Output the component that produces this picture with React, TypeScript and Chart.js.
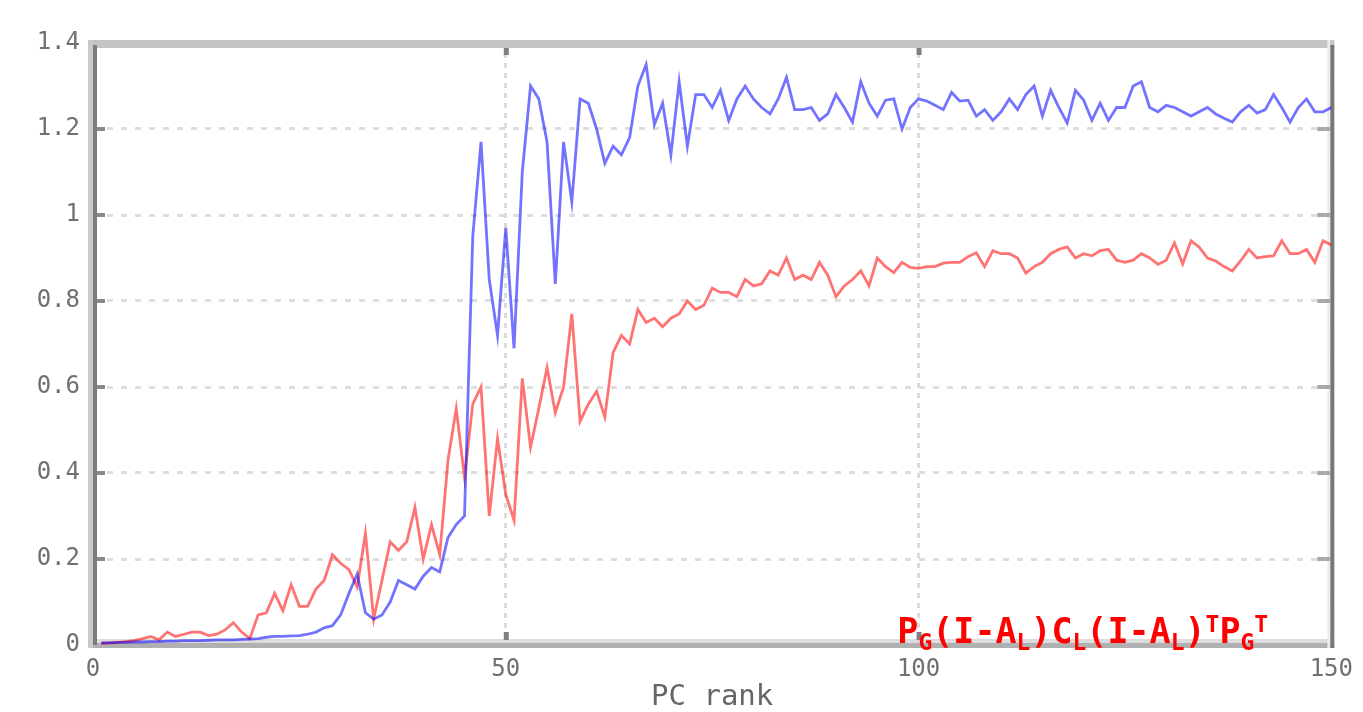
import React, { useEffect, useRef } from 'react';
import { Chart, registerables } from 'chart.js';

Chart.register(...registerables);

// Values (PC rank 1..150)
const blueSeries: number[] = [
  0.005, 0.005, 0.006, 0.006, 0.007, 0.007, 0.008, 0.008, 0.009, 0.009,
  0.01, 0.01, 0.01, 0.011, 0.012, 0.012, 0.012, 0.013, 0.014, 0.015,
  0.018, 0.02, 0.02, 0.021, 0.022, 0.025, 0.03, 0.04, 0.045, 0.07,
  0.12, 0.165, 0.075, 0.06, 0.07, 0.1, 0.15, 0.14, 0.13, 0.16,
  0.18, 0.17, 0.25, 0.28, 0.3, 0.95, 1.17, 0.85, 0.72, 0.97,
  0.69, 1.1, 1.3, 1.27, 1.17, 0.84, 1.17, 1.03, 1.27, 1.26,
  1.2, 1.12, 1.16, 1.14, 1.18, 1.3, 1.35, 1.21, 1.26, 1.14,
  1.31, 1.16, 1.28, 1.28, 1.25, 1.29, 1.22, 1.27, 1.3, 1.27,
  1.25, 1.235, 1.27, 1.32, 1.245, 1.245, 1.25, 1.22, 1.235, 1.28,
  1.25, 1.216, 1.31, 1.26, 1.23, 1.267, 1.27, 1.2, 1.25, 1.27,
  1.265, 1.255, 1.245, 1.285, 1.265, 1.267, 1.23, 1.245, 1.22, 1.24,
  1.27, 1.245, 1.28, 1.3, 1.23, 1.29, 1.25, 1.214, 1.29, 1.267,
  1.22, 1.26, 1.22, 1.25, 1.25, 1.3, 1.31, 1.25, 1.24, 1.255,
  1.25, 1.24, 1.23, 1.24, 1.25, 1.235, 1.225, 1.216, 1.24, 1.255,
  1.237, 1.245, 1.28, 1.25, 1.216, 1.25, 1.27, 1.24, 1.24, 1.25,
];

const redSeries: number[] = [
  0.004, 0.005, 0.006, 0.008, 0.01, 0.015, 0.02, 0.012, 0.03, 0.02,
  0.025, 0.03, 0.03, 0.022, 0.025, 0.035, 0.052, 0.03, 0.015, 0.07,
  0.075, 0.12, 0.08, 0.14, 0.09, 0.09, 0.13, 0.15, 0.21, 0.19,
  0.175, 0.135, 0.26, 0.06, 0.15, 0.24, 0.22, 0.24, 0.32, 0.2,
  0.28, 0.21, 0.43, 0.55, 0.39, 0.56, 0.6, 0.3, 0.48, 0.35,
  0.29, 0.62, 0.46, 0.55, 0.645, 0.54, 0.6, 0.77, 0.52, 0.56,
  0.59, 0.53, 0.68, 0.72, 0.7, 0.78, 0.75, 0.76, 0.74, 0.76,
  0.77, 0.8, 0.78, 0.79, 0.83, 0.82, 0.82, 0.81, 0.85, 0.835,
  0.84, 0.87, 0.86, 0.9, 0.85, 0.86, 0.85, 0.89, 0.86, 0.81,
  0.835, 0.85, 0.87, 0.835, 0.9, 0.88, 0.866, 0.89, 0.878, 0.876,
  0.88, 0.88, 0.888, 0.89, 0.89, 0.903, 0.912, 0.88, 0.917, 0.91,
  0.91, 0.9, 0.865, 0.88, 0.89, 0.91, 0.92, 0.926, 0.9, 0.91,
  0.905, 0.917, 0.92, 0.895, 0.89, 0.895, 0.91, 0.9, 0.885, 0.895,
  0.935, 0.886, 0.94, 0.925, 0.9, 0.893, 0.88, 0.87, 0.893, 0.92,
  0.9, 0.903, 0.905, 0.94, 0.91, 0.91, 0.92, 0.89, 0.94, 0.93,
];

const xTicks: number[] = [0, 50, 100, 150];
const yTicks: number[] = [0, 0.2, 0.4, 0.6, 0.8, 1, 1.2, 1.4];
const yTickLabels: string[] = ['0', '0.2', '0.4', '0.6', '0.8', '1', '1.2', '1.4'];
const xAxisTitle = 'PC rank';

// annotation: P_G(I-A_L)C_L(I-A_L)^T P_G^T
const annotationParts: [string, 'main' | 'sub' | 'sup'][] = [
  ['P', 'main'], ['G', 'sub'], ['(I-A', 'main'], ['L', 'sub'], [')C', 'main'], ['L', 'sub'],
  ['(I-A', 'main'], ['L', 'sub'], [')', 'main'], ['T', 'sup'], ['P', 'main'], ['G', 'sub'], ['T', 'sup'],
];

const MONO = '"DejaVu Sans Mono", "Liberation Mono", monospace';

export default function App() {
  const ref = useRef<HTMLCanvasElement>(null);

  useEffect(() => {
    const canvas = ref.current;
    if (!canvas) return;

    const framePlugin = {
      id: 'matlabFrame',
      beforeDatasetsDraw(chart: any) {
        const { ctx, chartArea } = chart;
        const { left, right, top, bottom } = chartArea;
        ctx.save();
        // top band
        ctx.fillStyle = '#c4c4c4';
        ctx.fillRect(left, top - 3, right - left + 3, 8);
        // bottom band
        ctx.fillStyle = '#dcdcdc';
        ctx.fillRect(left, bottom - 6, right - left, 4);
        ctx.fillStyle = '#b0b0b0';
        ctx.fillRect(left - 5, bottom - 2, right - left + 8, 5);
        // left
        ctx.fillStyle = '#cacaca';
        ctx.fillRect(left - 5, top - 3, 5, bottom - top + 6);
        ctx.fillStyle = '#7c7c7c';
        ctx.fillRect(left, top + 2, 4, bottom - top - 2);
        // right
        ctx.fillStyle = '#ececec';
        ctx.fillRect(right - 4, top - 3, 3, bottom - top + 6);
        ctx.fillStyle = '#777777';
        ctx.fillRect(right - 1, top + 2, 4, bottom - top + 1);
        // inner tick marks
        const ys = chart.scales.y;
        const xs = chart.scales.x;
        yTicks.slice(1, -1).forEach((v) => {
          const py = ys.getPixelForValue(v);
          ctx.fillStyle = '#8a8a8a';
          ctx.fillRect(left + 4, py - 2, 8, 4);
          ctx.fillStyle = '#a8a8a8';
          ctx.fillRect(right - 14, py - 2, 13, 4);
        });
        xTicks.slice(1, -1).forEach((v) => {
          const px = xs.getPixelForValue(v);
          ctx.fillStyle = '#808080';
          ctx.fillRect(px - 2, top + 5, 5, 7);
          ctx.fillRect(px - 2, bottom - 13, 5, 8);
        });
        ctx.restore();
      },
      afterDraw(chart: any) {
        const { ctx, chartArea } = chart;
        ctx.save();
        ctx.fillStyle = '#ff0000';
        ctx.textBaseline = 'alphabetic';
        ctx.textAlign = 'left';
        let x = chartArea.right - 434;
        const base = chartArea.bottom - 2;
        annotationParts.forEach(([t, kind]) => {
          ctx.font = kind === 'main' ? `bold 35px ${MONO}` : `bold 23px ${MONO}`;
          const y = kind === 'sub' ? base + 7 : kind === 'sup' ? base - 11 : base;
          ctx.fillText(t, x, y);
          x += ctx.measureText(t).width;
        });
        ctx.restore();
      },
    };

    const tickFont = { family: MONO, size: 24 };

    const chart = new Chart(canvas, {
      type: 'line',
      data: {
        datasets: [
          {
            label: 'blue',
            data: blueSeries.map((y, i) => ({ x: i + 1, y })),
            borderColor: 'rgba(0,0,255,0.55)',
            borderWidth: 2.8,
            pointRadius: 0,
            tension: 0,
            fill: false,
          },
          {
            label: 'red',
            data: redSeries.map((y, i) => ({ x: i + 1, y })),
            borderColor: 'rgba(255,0,0,0.55)',
            borderWidth: 2.8,
            pointRadius: 0,
            tension: 0,
            fill: false,
          },
        ],
      },
      options: {
        animation: false,
        responsive: false,
        layout: { padding: { left: 0, right: 30, top: 43, bottom: 0 } },
        plugins: { legend: { display: false }, tooltip: { enabled: false } },
        scales: {
          x: {
            type: 'linear',
            min: 0,
            max: 150,
            afterBuildTicks: (s: any) => {
              s.ticks = xTicks.map((v) => ({ value: v }));
            },
            afterFit: (s: any) => {
              s.height = 67;
            },
            grid: { color: '#dcdcdc', lineWidth: 3, drawTicks: false },
            border: { display: false, dash: [5, 5] },
            ticks: { font: tickFont, color: '#707070', padding: 10, maxRotation: 0, autoSkip: false },
            title: {
              display: true,
              text: xAxisTitle,
              font: { family: MONO, size: 29, lineHeight: 1 },
              color: '#666666',
              padding: 0,
            },
          },
          y: {
            min: 0,
            max: 1.4,
            afterBuildTicks: (s: any) => {
              s.ticks = yTicks.map((v) => ({ value: v }));
            },
            afterFit: (s: any) => {
              s.width = 93;
            },
            grid: { color: '#dedede', lineWidth: 3, drawTicks: false },
            border: { display: false, dash: [6, 8] },
            ticks: {
              font: tickFont,
              color: '#707070',
              padding: 13,
              callback: (_v: any, i: number) => yTickLabels[i],
            },
          },
        },
      },
      plugins: [framePlugin],
    } as any);

    return () => chart.destroy();
  }, []);

  return (
    <canvas
      ref={ref}
      width={1363}
      height={712}
      style={{ position: 'absolute', left: 0, top: 0, width: 1363, height: 712, display: 'block' }}
    />
  );
}
